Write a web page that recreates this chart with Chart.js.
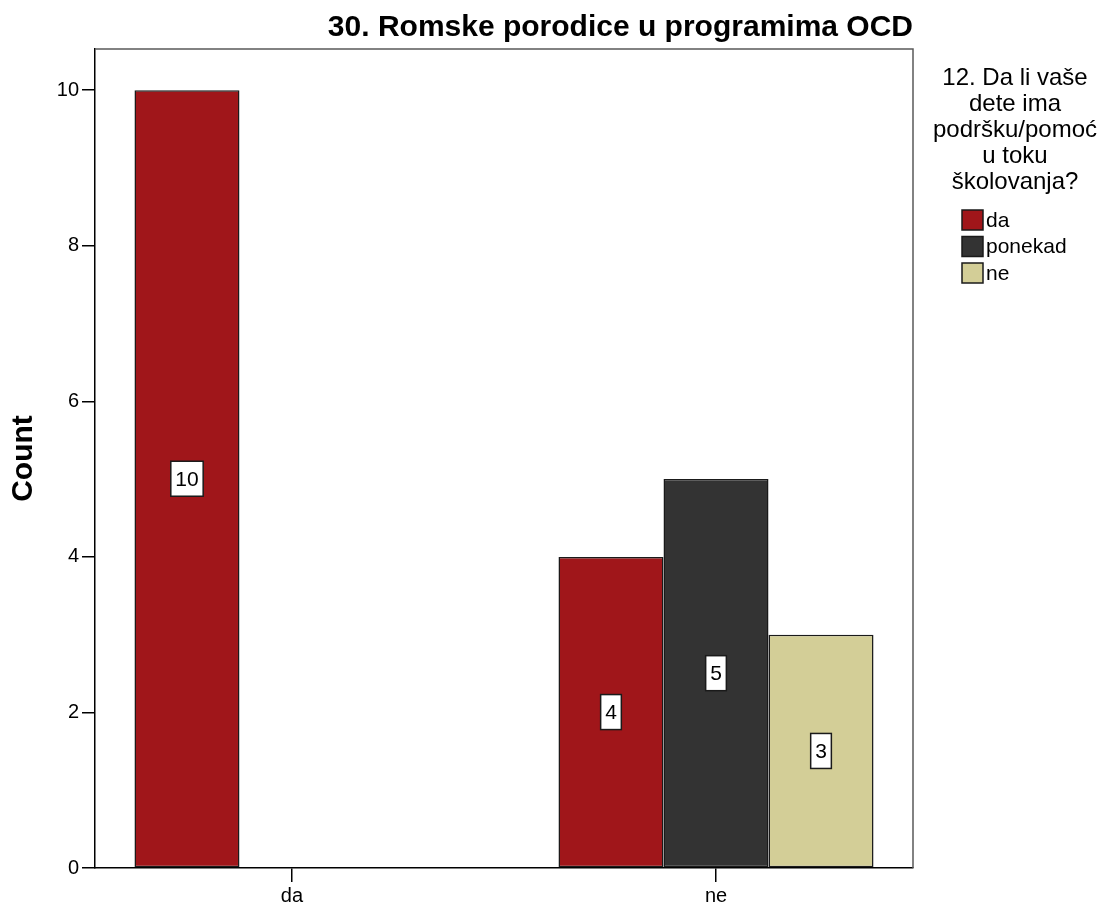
<!DOCTYPE html>
<html>
<head>
<meta charset="utf-8">
<title>30. Romske porodice u programima OCD</title>
<script src="https://cdn.jsdelivr.net/npm/chart.js@4.4.1/dist/chart.umd.min.js"></script>
<style>
    html, body { margin: 0; padding: 0; background: #ffffff; }
    #wrap { width: 1107px; height: 905px; }
</style>
</head>
<body>
<div id="wrap"><canvas id="barChart" width="1107" height="905"></canvas></div>
<script>
const categories = ['da', 'ne'];
const seriesNames = ['da', 'ponekad', 'ne'];
const daValues = [10, 4];
const ponekadValues = [null, 5];
const neValues = [null, 3];
const yTicks = [0, 2, 4, 6, 8, 10];
const legendTitle = ['12. Da li vaše', 'dete ima', 'podršku/pomoć', 'u toku', 'školovanja?'];

const colors = ['#A0161A', '#333333', '#D3CE97'];
const FONT = '"Liberation Sans", Arial, sans-serif';

function toPoints(values) {
    return values.map((v, i) => ({ x: i, y: v }));
}

// white boxes with the count in the middle of every bar
const valueLabels = {
    id: 'valueLabels',
    afterDatasetsDraw(chart) {
        const ctx = chart.ctx;
        ctx.save();
        ctx.font = '21px ' + FONT;
        ctx.textAlign = 'center';
        ctx.textBaseline = 'middle';
        chart.data.datasets.forEach((ds, di) => {
            const meta = chart.getDatasetMeta(di);
            meta.data.forEach((bar, i) => {
                const v = ds.data[i].y;
                if (v === null || v === undefined) return;
                const text = String(v);
                const cx = bar.x;
                const cy = (bar.y + bar.base) / 2;
                const w = ctx.measureText(text).width + 9;
                const h = 35;
                ctx.fillStyle = '#ffffff';
                ctx.fillRect(cx - w / 2, cy - h / 2, w, h);
                ctx.lineWidth = 1.5;
                ctx.strokeStyle = '#1a1a1a';
                ctx.strokeRect(cx - w / 2, cy - h / 2, w, h);
                ctx.fillStyle = '#000000';
                ctx.fillText(text, cx, cy + 1);
            });
        });
        ctx.restore();
    }
};

// top/right frame of the plot and the legend on the right
const frameAndLegend = {
    id: 'frameAndLegend',
    afterDraw(chart) {
        const ctx = chart.ctx;
        const a = chart.chartArea;
        ctx.save();
        ctx.strokeStyle = '#5a5a5a';
        ctx.lineWidth = 1.5;
        ctx.beginPath();
        ctx.moveTo(a.left, a.top);
        ctx.lineTo(a.right, a.top);
        ctx.lineTo(a.right, a.bottom);
        ctx.stroke();

        ctx.fillStyle = '#000000';
        ctx.textAlign = 'center';
        ctx.textBaseline = 'middle';
        ctx.font = '24px ' + FONT;
        legendTitle.forEach((line, i) => {
            ctx.fillText(line, 1015, 78 + i * 26);
        });

        ctx.font = '21px ' + FONT;
        ctx.textAlign = 'left';
        chart.data.datasets.forEach((ds, i) => {
            const y = 220 + i * 26.5;
            ctx.fillStyle = ds.backgroundColor;
            ctx.fillRect(962, y - 10, 21, 20);
            ctx.strokeStyle = '#1a1a1a';
            ctx.lineWidth = 1.5;
            ctx.strokeRect(962, y - 10, 21, 20);
            ctx.fillStyle = '#000000';
            ctx.fillText(ds.label, 986, y + 1);
        });
        ctx.restore();
    }
};

const ctx = document.getElementById('barChart').getContext('2d');
new Chart(ctx, {
    type: 'bar',
    data: {
        datasets: [daValues, ponekadValues, neValues].map((vals, i) => ({
            label: seriesNames[i],
            data: toPoints(vals),
            backgroundColor: colors[i],
            borderColor: '#1a1a1a',
            borderWidth: 1.5,
            borderSkipped: false,
            categoryPercentage: 0.743,
            barPercentage: 1.0
        }))
    },
    options: {
        responsive: false,
        animation: false,
        events: [],
        layout: { padding: { left: 0, right: 194, top: 0, bottom: 0 } },
        plugins: {
            legend: { display: false },
            tooltip: { enabled: false },
            title: {
                display: true,
                text: '30. Romske porodice u programima OCD',
                align: 'end',
                fullSize: false,
                color: '#000000',
                font: { family: FONT, size: 30, weight: 'bold' },
                padding: { top: 10, bottom: 3 }
            }
        },
        scales: {
            x: {
                type: 'linear',
                offset: false,
                min: -0.4646,
                max: 1.4646,
                afterBuildTicks: (scale) => {
                    scale.ticks = categories.map((c, i) => ({ value: i }));
                },
                afterFit: (scale) => { scale.height = 37; },
                border: { color: '#000000', width: 1.5 },
                grid: { offset: false, drawOnChartArea: false, drawTicks: true, tickLength: 14, color: '#000000', lineWidth: 1.5 },
                ticks: {
                    color: '#000000',
                    padding: 2,
                    font: { family: FONT, size: 20 },
                    callback: (v) => categories[v]
                }
            },
            y: {
                min: 0,
                max: 10.53,
                afterBuildTicks: (scale) => {
                    scale.ticks = yTicks.map(v => ({ value: v }));
                },
                afterFit: (scale) => { scale.width = 95; },
                border: { color: '#000000', width: 1.5 },
                grid: { drawOnChartArea: false, drawTicks: true, tickLength: 13, color: '#000000', lineWidth: 1.5 },
                ticks: {
                    color: '#000000',
                    padding: 3,
                    font: { family: FONT, size: 20 }
                },
                title: {
                    display: true,
                    text: 'Count',
                    color: '#000000',
                    padding: { top: 6, bottom: 0 },
                    font: { family: FONT, size: 30, weight: 'bold' }
                }
            }
        }
    },
    plugins: [valueLabels, frameAndLegend]
});
</script>
</body>
</html>
